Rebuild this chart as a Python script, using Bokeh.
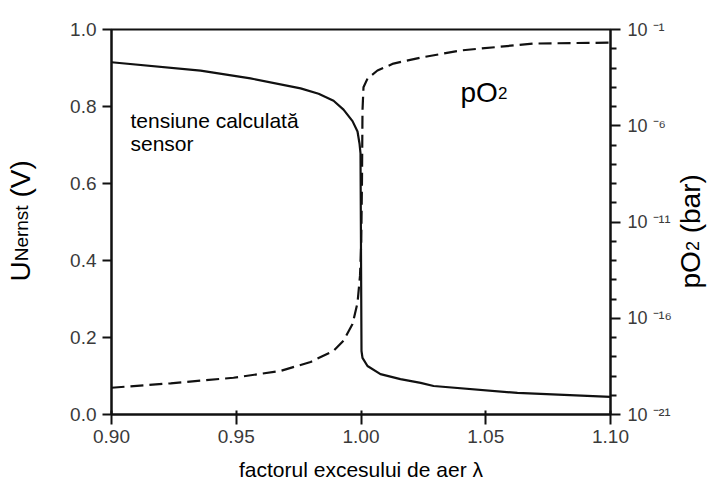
import math
from bokeh.plotting import figure
from bokeh.layouts import row
from bokeh.models import Range1d, LogScale, LogAxis, FixedTicker, PrintfTickFormatter, Label
from bokeh.embed import file_html
from bokeh.resources import INLINE

# ---- data ----
lam_u = [0.9000, 0.9357, 0.9557, 0.9758, 0.9830, 0.9890, 0.9930, 0.9966, 0.9986,
         0.9994, 0.9998, 1.0000, 1.0002, 1.0006, 1.0026, 1.0078, 1.0158, 1.0239,
         1.0291, 1.0627, 1.1000]
u_nernst = [0.915, 0.893, 0.873, 0.847, 0.833, 0.815, 0.792, 0.762, 0.735,
             0.704, 0.678, 0.425, 0.165, 0.147, 0.126, 0.105, 0.092, 0.082,
             0.074, 0.056, 0.046]

lam_p = [0.9000, 0.9237, 0.9489, 0.9677, 0.9798, 0.9890, 0.9930, 0.9966, 0.9986,
         0.9996, 1.0001, 1.0004, 1.0006, 1.0010, 1.0026, 1.0066, 1.0130, 1.0239,
         1.0399, 1.0691, 1.1000]
log_po2 = [-19.61, -19.38, -19.09, -18.74, -18.27, -17.69, -17.16, -16.30, -15.20,
           -13.80, -12.00, -8.80, -5.20, -4.00, -3.55, -3.13, -2.77, -2.46,
           -2.09, -1.73, -1.68]
po2 = [10.0 ** e for e in log_po2]

x_ticks = [0.90, 0.95, 1.00, 1.05, 1.10]
y_ticks = [0.0, 0.2, 0.4, 0.6, 0.8, 1.0]
po2_ticks = [1e-21, 1e-16, 1e-11, 1e-6, 1e-1]
po2_tick_labels = ["10 ⁻²¹", "10 ⁻¹⁶", "10 ⁻¹¹", "10 ⁻⁶", "10 ⁻¹"]
po2_minor = [10.0 ** (-k) for k in range(2, 21) if k not in (6, 11, 16)]

FONT = "Liberation Sans"
INK = "#111111"
H = 484

p = figure(width=618, height=H, x_range=Range1d(0.90, 1.10), y_range=Range1d(0.0, 1.0),
           output_backend="svg", toolbar_location=None,
           min_border_left=53, min_border_right=66, min_border_top=29, min_border_bottom=70)
p.xgrid.visible = False
p.ygrid.visible = False
p.outline_line_color = INK
p.outline_line_width = 2
p.background_fill_color = "white"
p.border_fill_color = "white"

p.extra_y_ranges = {"po2": Range1d(1e-21, 1e-1)}
p.extra_y_scales = {"po2": LogScale()}

for ax in (p.xaxis[0], p.yaxis[0]):
    ax.axis_line_width = 2
    ax.axis_line_color = INK
    ax.major_tick_line_width = 2
    ax.major_tick_line_color = INK
    ax.minor_tick_line_color = None
    ax.major_label_text_font = FONT
    ax.major_label_text_font_size = "19px"
    ax.major_label_text_color = "#3a3a3a"

p.xaxis.ticker = FixedTicker(ticks=x_ticks)
p.xaxis.formatter = PrintfTickFormatter(format="%.2f")
p.xaxis.major_tick_out = 10
p.xaxis.major_tick_in = 4
p.xaxis.major_label_standoff = 5
p.xaxis.axis_label = "factorul excesului de aer λ"
p.xaxis.axis_label_text_font = FONT
p.xaxis.axis_label_text_font_size = "21px"
p.xaxis.axis_label_text_font_style = "normal"
p.xaxis.axis_label_text_color = "#000000"
p.xaxis.axis_label_standoff = 12

p.yaxis.ticker = FixedTicker(ticks=y_ticks)
p.yaxis.formatter = PrintfTickFormatter(format="%.1f")
p.yaxis.major_tick_out = 9
p.yaxis.major_tick_in = 0
p.yaxis.major_label_standoff = 6

right_ax = LogAxis(y_range_name="po2",
                   ticker=FixedTicker(ticks=po2_ticks, minor_ticks=po2_minor),
                   major_label_overrides=dict(zip(po2_ticks, po2_tick_labels)))
right_ax.axis_line_width = 2
right_ax.axis_line_color = INK
right_ax.major_tick_line_width = 2
right_ax.major_tick_line_color = INK
right_ax.major_tick_out = 10
right_ax.major_tick_in = 0
right_ax.minor_tick_line_width = 2
right_ax.minor_tick_line_color = INK
right_ax.minor_tick_out = 6
right_ax.minor_tick_in = 0
right_ax.major_label_text_font = FONT
right_ax.major_label_text_font_size = "18px"
right_ax.major_label_text_color = "#3a3a3a"
right_ax.major_label_standoff = 7
p.add_layout(right_ax, "right")

p.line(lam_u, u_nernst, line_color=INK, line_width=2.2)
p.line(lam_p, po2, y_range_name="po2", line_color=INK, line_width=2.2, line_dash="13 6")


def lab(fig, x, y, text, size, angle=0.0, align="left"):
    fig.add_layout(Label(x=x, y=y, text=text, text_font=FONT, text_font_size=size,
                         text_color="#000000", angle=angle, text_align=align,
                         text_baseline="alphabetic"))


# annotations inside the plot
lab(p, 0.9076, 0.7636, "tensiune calculată", "21px")
lab(p, 0.9076, 0.7039, "sensor", "21px")
lab(p, 1.0399, 0.8364, "pO", "28px")
lab(p, 1.0549, 0.8338, "2", "17px")


def side_fig(w):
    # frames of a row are aligned with the main plot's frame, so y uses the same 0..1 range
    f = figure(width=w, height=H, x_range=Range1d(0, w), y_range=Range1d(0.0, 1.0),
               output_backend="svg", toolbar_location=None, min_border=0,
               x_axis_type=None, y_axis_type=None)
    f.grid.visible = False
    f.outline_line_color = None
    f.background_fill_color = "white"
    f.border_fill_color = "white"
    return f


half_pi = math.pi / 2

# left axis title: U with subscript "Nernst"
lf = side_fig(58)
lab(lf, 20, 0.3455, "U", "28px", angle=half_pi)
lab(lf, 21, 0.3979, "Nernst", "19px", angle=half_pi)
lab(lf, 20, 0.5636, "(V)", "28px", angle=half_pi)

# right axis title: pO2 (bar)
rf = side_fig(34)
lab(rf, 14, 0.3273, "pO", "28px", angle=half_pi)
lab(rf, 16, 0.4244, "2", "18px", angle=half_pi)
lab(rf, 14, 0.4706, "(bar)", "28px", angle=half_pi)

layout = row(lf, p, rf)
open("out.html", "w").write(file_html(layout, INLINE))
